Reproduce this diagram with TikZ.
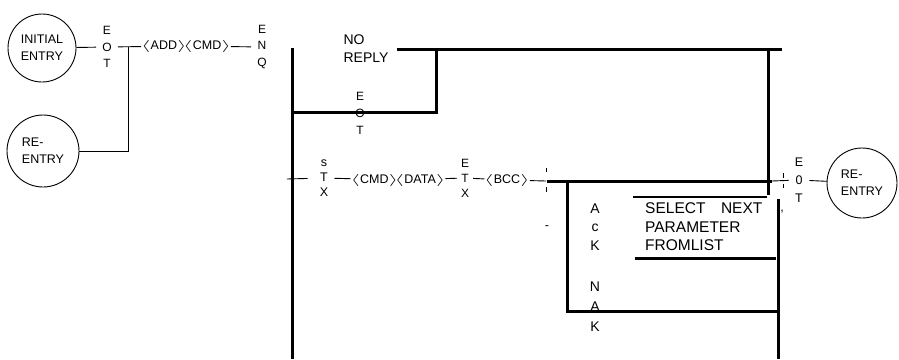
\documentclass[tikz,border=0pt]{standalone}
\usepackage{fontspec}
\setmainfont{Liberation Sans}
\usetikzlibrary{calc}
\newcommand{\lb}{\scalebox{1.9}[1]{$\langle$}\hspace{0.5pt}}
\newcommand{\rb}{\hspace{0.5pt}\scalebox{1.9}[1]{$\rangle$}}
\begin{document}
\begin{tikzpicture}[x=1pt,y=-1pt,
  thk/.style={line width=3pt},
  thn/.style={line width=0.9pt},
  lab/.style={inner sep=0pt, font=\fontsize{12.5}{12.5}\selectfont},
  col/.style={inner ysep=0pt, inner xsep=6pt, align=center, font=\fontsize{12}{16.5}\selectfont},
  circ/.style={circle, draw, line width=0.9pt, inner sep=0pt, align=left, font=\fontsize{12.5}{17}\selectfont}]
\useasboundingbox (0,0) rectangle (899,359);
% left part
\node[circ, minimum size=68pt] (init) at (42,48) {INITIAL\\ENTRY};
\node[col] (eot1) at (107,47) {E\\O\\T};
\node[lab] (addcmd) at (186,46) {\lb ADD\rb\hspace{-3pt}\lb CMD\rb};
\node[col] (enq) at (262,47) {E\\N\\Q};
\node[circ, minimum size=72pt] (re1) at (43,151) {RE-\\ENTRY};
\coordinate (j1) at (128,47);
\draw[thn] (init) -- (eot1);
\draw[thn] (eot1) -- (addcmd);
\draw[thn] (addcmd) -- (enq);
\draw[thn] (j1) |- (re1);
% middle frame
\coordinate (L1) at (292,48);
\coordinate (L2) at (292,359);
\draw[thk] (L1) -- (L2);
\node[lab, align=left, inner xsep=8pt, font=\fontsize{14}{18}\selectfont] (noreply) at (366,49) {NO\\REPLY};
\coordinate (T1) at (436,49);
\coordinate (T2) at (768,49);
\coordinate (T3) at (782,49);
\draw[thk] (noreply) -- (T3);
\coordinate (J3) at (436,112);
\coordinate (L3) at (292,112);
\draw[thk] (T1) -- (J3) -- (L3);
\node[col, font=\fontsize{12}{17}\selectfont] (eot2) at (360,113) {E\\O\\T};
\coordinate (R2) at (768,195);
\draw[thk] (T2) -- (R2);
% STX line
\coordinate (s0) at (287,179);
\node[col, font=\fontsize{12.5}{15}\selectfont] (stx) at (324,178) {s\\T\\X};
\draw[thn, shorten >=6pt] (s0) -- (stx);
\node[lab] (cd) at (398,180) {\lb CMD\rb\hspace{-3pt}\lb DATA\rb};
\draw[thn] (stx) -- (cd);
\node[col, inner xsep=4pt, font=\fontsize{12}{15}\selectfont] (etx) at (465,178) {E\\T\\X};
\draw[thn] (cd) -- (etx);
\node[lab] (bcc) at (507,180) {\lb BCC\rb};
\draw[thn] (etx) -- (bcc);
\coordinate (tk) at (546,181);
\draw[thn] (bcc) -- (tk);
\draw[thn] (546,168) -- (546,172) (546,187) -- (546,192);
\coordinate (H1) at (547,181);
\coordinate (H2) at (772,181);
\draw[thk] (H1) -- (H2);
\node[lab] (dash1) at (547,228) {-};
\coordinate (V1) at (567,183);
\coordinate (V2) at (567,313);
\draw[thk] (V1) -- (V2);
\node[col, font=\fontsize{14}{18.5}\selectfont] (ack) at (595,227) {A\\c\\K};
\coordinate (S1) at (633,197);
\coordinate (S2) at (767,197);
\draw[line width=2.5pt] (S1) -- (S2);
\node[lab, align=left, anchor=west, font=\fontsize{15.5}{18.5}\selectfont] (sel) at (645,227) {SELECT\quad NEXT\\PARAMETER\\FROMLIST};
\coordinate (S3) at (635,258);
\coordinate (S4) at (776,258);
\draw[thk] (S3) -- (S4);
\coordinate (R3) at (778,199);
\coordinate (R4) at (778,359);
\draw[thk] (R3) -- (R4);
\node[col, font=\fontsize{14}{20}\selectfont] (nak) at (595,307) {N\\A\\K};
\coordinate (N1) at (566,311);
\coordinate (N2) at (778,311);
\draw[thk] (N1) -- (N2);
% right part
\node[lab] (comma) at (782,212) {,};
\node[col, font=\fontsize{12.5}{18}\selectfont] (eot3) at (799,180) {E\\0\\T};
\coordinate (c1) at (772,181);
\draw[thn] (c1) -- (eot3);
\draw[thn] (783,173) -- (783,178) (783,184) -- (783,188);
\node[circ, minimum size=70pt] (re2) at (862,183) {RE-\\ENTRY};
\draw[thn] (eot3) -- (re2);
\end{tikzpicture}
\end{document}
